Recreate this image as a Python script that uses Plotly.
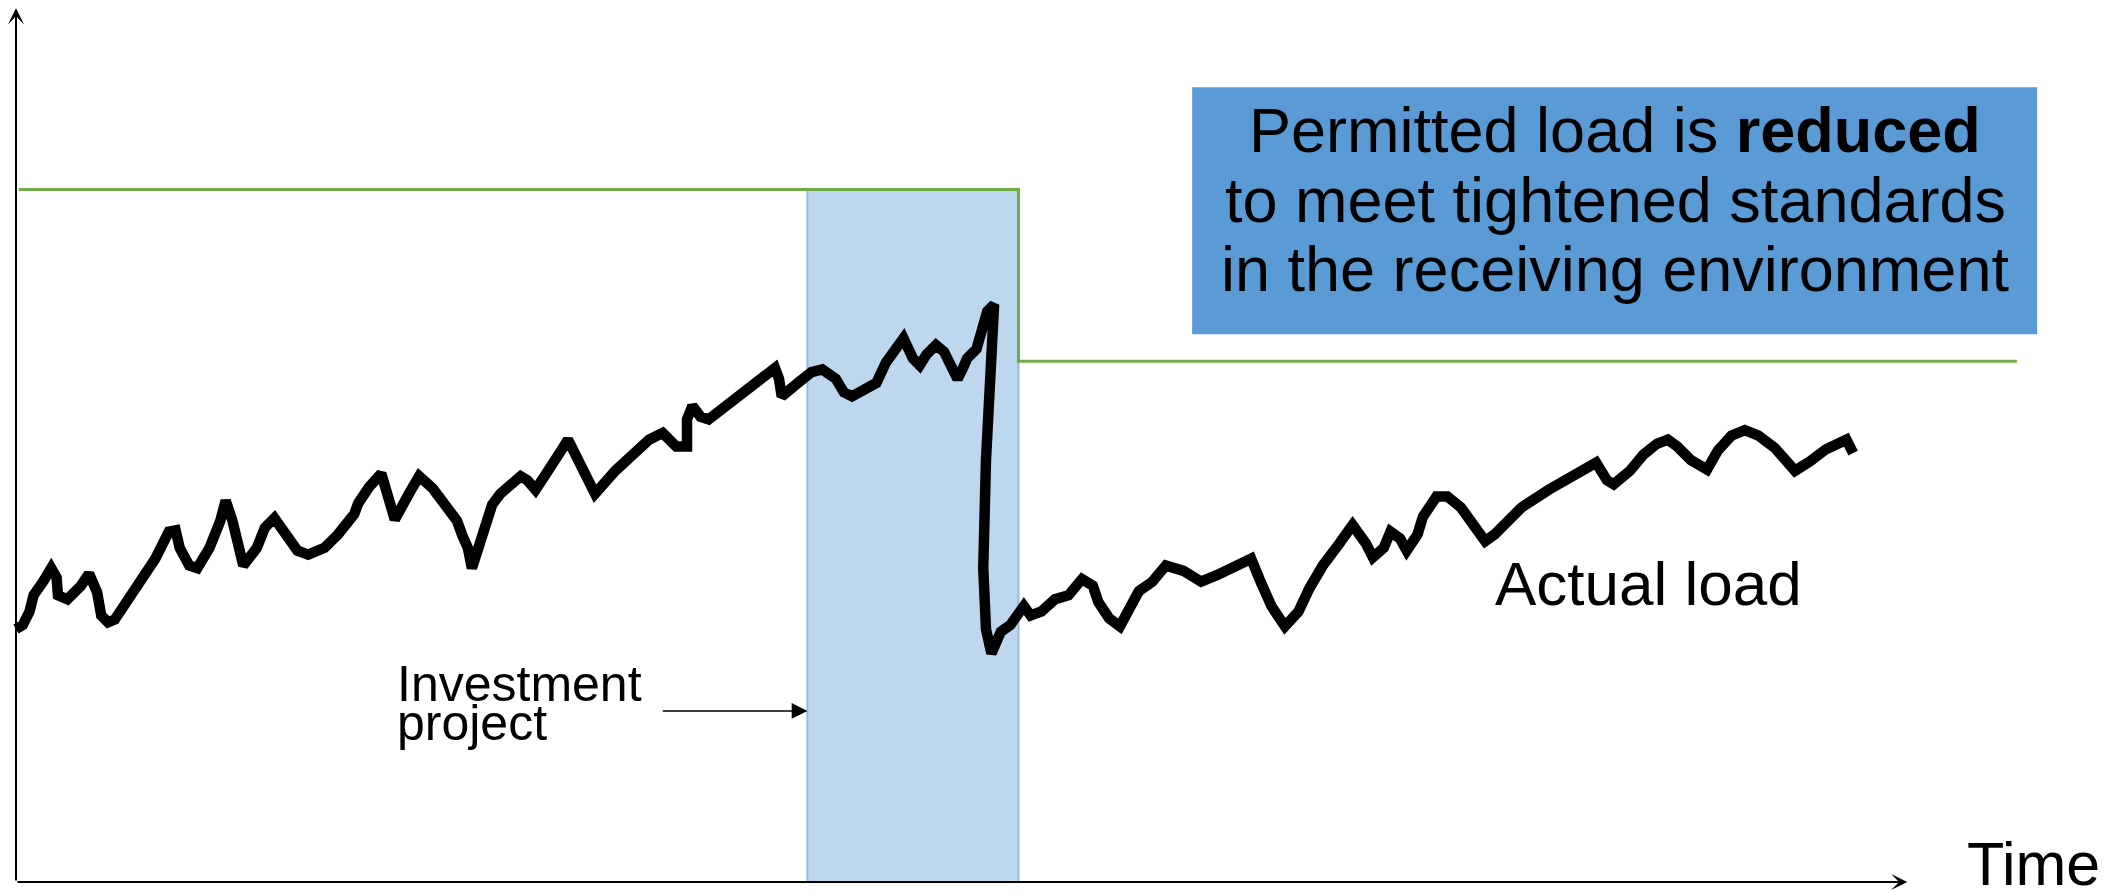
import plotly.graph_objects as go

# Actual load over time (arbitrary units)
time = [0.0, 0.5, 1.0, 1.3, 2.0, 2.6, 3.0, 3.1, 3.8, 4.8, 5.4, 6.0, 6.3, 6.8, 7.3,
        8.8, 10.3, 11.3, 11.8, 12.1, 12.8, 13.4, 14.3, 15.1, 15.5, 16.0, 16.5, 16.8,
        17.8, 18.4, 19.1, 20.0, 20.8, 21.6, 22.8, 23.8, 25.0, 25.3, 26.1, 27.0, 27.6,
        28.0, 29.1, 29.8, 30.8, 31.8, 32.6, 33.0, 33.4, 33.7, 34.0, 34.4, 35.2, 35.8,
        36.6, 37.3, 37.8, 38.4, 39.0, 39.6, 40.3, 40.8, 41.4, 42.0, 42.8, 44.3, 45.8,
        46.8, 47.8, 48.8, 49.6, 49.6, 50.0, 50.6, 51.2, 52.3, 53.8, 55.3, 56.1, 56.4,
        56.6, 57.8, 58.8, 59.6, 60.6, 61.2, 61.8, 63.6, 64.3, 65.6, 66.3, 66.8, 67.3,
        68.0, 68.6, 69.1, 69.6, 70.0, 70.3, 71.0, 71.4, 71.8, 72.3, 72.1, 71.7, 71.5,
        71.7, 72.1, 72.8, 73.5, 74.0, 74.5, 75.0, 75.8, 76.8, 77.8, 78.8, 79.6, 80.0,
        80.8, 81.6, 82.3, 83.0, 84.0, 85.0, 86.3, 87.6, 88.8, 90.3, 91.3, 92.0, 92.8,
        93.8, 94.8, 95.6, 96.6, 97.8, 98.8, 99.8, 100.3, 101.1, 101.6, 102.3, 102.8,
        103.6, 104.0, 105.0, 105.8, 106.8, 107.8, 108.6, 109.3, 110.3, 111.3, 113.3,
        115.3, 116.8, 117.6, 118.1, 119.3, 120.3, 121.3, 122.1, 122.8, 123.8, 125.0,
        125.8, 126.8, 127.8, 128.8, 130.0, 130.8, 131.5, 132.6, 133.8, 135.3, 135.8]
actual_load = [37.4, 38.0, 40.0, 42.4, 44.4, 46.4, 45.0, 42.4, 41.8, 43.8, 45.6, 42.8,
               39.4, 38.4, 38.8, 43.0, 47.8, 51.8, 52.0, 49.4, 46.8, 46.4, 49.4, 53.4,
               56.4, 53.4, 49.4, 46.8, 49.4, 52.4, 53.8, 51.4, 49.0, 48.4, 49.4, 51.4,
               54.4, 56.0, 58.4, 60.4, 56.8, 53.6, 57.6, 60.0, 58.2, 55.8, 53.4, 51.2,
               49.4, 46.4, 48.4, 51.4, 55.8, 57.4, 58.6, 60.0, 59.4, 58.0, 59.8, 62.0,
               63.8, 65.4, 63.0, 60.0, 57.4, 60.8, 63.8, 65.4, 66.4, 64.4, 64.4, 68.4,
               70.4, 68.8, 68.4, 70.0, 72.4, 74.8, 76.0, 74.4, 71.8, 73.8, 75.4, 75.8,
               74.4, 72.4, 71.8, 73.8, 76.8, 80.4, 77.4, 76.4, 78.0, 79.4, 78.4, 76.4,
               74.4, 76.0, 77.4, 78.8, 81.4, 84.4, 85.4, 78.4, 62.4, 46.4, 37.4, 33.8,
               37.0, 38.0, 39.2, 40.8, 39.4, 40.0, 41.8, 42.4, 44.8, 43.8, 41.4, 39.0,
               37.8, 40.4, 43.0, 44.4, 46.8, 46.0, 44.4, 45.4, 46.8, 47.8, 44.4, 40.8,
               37.8, 40.0, 43.4, 46.8, 50.0, 52.8, 50.0, 48.0, 49.4, 51.8, 50.8, 49.0,
               51.4, 54.0, 57.0, 57.0, 55.4, 52.8, 50.4, 51.4, 53.4, 55.4, 58.0, 60.4,
               62.0, 59.4, 58.8, 60.8, 63.2, 64.8, 65.4, 64.4, 62.4, 61.0, 63.8, 66.0,
               66.8, 66.0, 64.2, 62.4, 60.8, 62.2, 64.0, 65.4, 63.4]

# Permitted load: stepped down at the end of the investment project
permit_time = [0.2, 74.1, 74.1, 147.9]
permit_load = [102.4, 102.4, 77.0, 77.0]

# Investment project period
project_start = 58.5
project_end = 74.1

FONT = "Liberation Sans, Arial, sans-serif"

fig = go.Figure()

fig.add_trace(go.Scatter(
    x=permit_time, y=permit_load, mode="lines",
    line=dict(color="#70AD47", width=3), hoverinfo="skip", showlegend=False))

fig.add_trace(go.Scatter(
    x=time, y=actual_load, mode="lines",
    line=dict(color="#000000", width=10.5), hoverinfo="skip", showlegend=False))

# Shaded project period
fig.add_shape(type="rect", xref="x", yref="y",
              x0=project_start, x1=project_end, y0=0, y1=permit_load[0],
              fillcolor="#BDD7EE", line=dict(color="#98B9DC", width=2),
              layer="below")

# Explanatory box
fig.add_shape(type="rect", xref="x", yref="y",
              x0=86.94, x1=149.4, y0=81.0, y1=117.5,
              fillcolor="#5B9BD5", line=dict(width=0), layer="below")

box_lines = [
    "Permitted load is <b>reduced</b>",
    "to meet tightened standards",
    "in the receiving environment",
]
box_line_y = [111.2, 100.85, 90.7]
for txt, yy in zip(box_lines, box_line_y):
    fig.add_annotation(x=118.2, y=yy, xref="x", yref="y", text=txt,
                       showarrow=False, xanchor="center", yanchor="middle",
                       font=dict(family=FONT, size=63, color="#000000"))

# Axes drawn as arrows
axis_style = dict(showarrow=True, arrowhead=3, arrowsize=1.35, arrowwidth=2,
                  arrowcolor="#000000", axref="x", ayref="y", xref="x", yref="y",
                  text="")
fig.add_annotation(x=0, y=129.2, ax=0, ay=0, **axis_style)
fig.add_annotation(x=139.8, y=0, ax=0, ay=0, **axis_style)

# Labels
fig.add_annotation(x=144.1, y=2.6, xref="x", yref="y", text="Time",
                   showarrow=False, xanchor="left", yanchor="middle",
                   font=dict(family=FONT, size=61, color="#000000"))
fig.add_annotation(x=109.2, y=44.1, xref="x", yref="y", text="Actual load",
                   showarrow=False, xanchor="left", yanchor="middle",
                   font=dict(family=FONT, size=62, color="#000000"))
fig.add_annotation(x=28.0, y=29.3, xref="x", yref="y", text="Investment",
                   showarrow=False, xanchor="left", yanchor="middle",
                   font=dict(family=FONT, size=50, color="#000000"))
fig.add_annotation(x=28.0, y=23.5, xref="x", yref="y", text="project",
                   showarrow=False, xanchor="left", yanchor="middle",
                   font=dict(family=FONT, size=50, color="#000000"))
fig.add_annotation(x=project_start, y=25.3, ax=47.7, ay=25.3,
                   xref="x", yref="y", axref="x", ayref="y", text="",
                   showarrow=True, arrowhead=2, arrowsize=2.1, arrowwidth=1.5,
                   arrowcolor="#000000")

fig.update_layout(
    width=2121, height=895,
    margin=dict(l=0, r=0, t=0, b=0),
    paper_bgcolor="white", plot_bgcolor="white",
    showlegend=False,
    xaxis=dict(range=[-1.183, 155.6], visible=False, fixedrange=True),
    yaxis=dict(range=[-1.92, 130.41], visible=False, fixedrange=True),
)

fig.write_html("out.html")
